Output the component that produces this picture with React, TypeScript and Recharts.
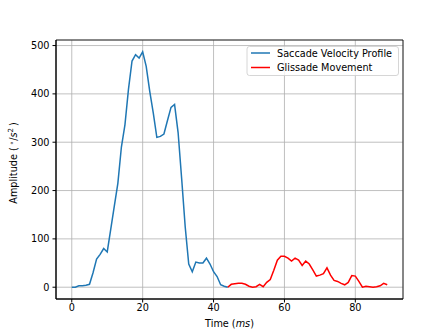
import React from 'react';
import { LineChart, Line, XAxis, YAxis, CartesianGrid, ReferenceArea } from 'recharts';

// time in ms, 1 ms steps
const times = [
  0, 1, 2, 3, 4, 5, 6, 7, 8, 9, 10, 11, 12, 13, 14, 15, 16, 17, 18, 19,
  20, 21, 22, 23, 24, 25, 26, 27, 28, 29, 30, 31, 32, 33, 34, 35, 36, 37, 38, 39,
  40, 41, 42, 43, 44, 45, 46, 47, 48, 49, 50, 51, 52, 53, 54, 55, 56, 57, 58, 59,
  60, 61, 62, 63, 64, 65, 66, 67, 68, 69, 70, 71, 72, 73, 74, 75, 76, 77, 78, 79,
  80, 81, 82, 83, 84, 85, 86, 87, 88, 89,
];

// saccade: t = 0..44
const saccade = [
  0, 0, 3, 3, 4, 6, 30, 58, 68, 80,
  73, 120, 168, 215, 290, 336, 410, 468, 481, 474,
  487, 457, 405, 360, 310, 312, 317, 345, 372, 378,
  320, 225, 125, 48, 32, 52, 50, 50, 60, 48,
  32, 22, 5, 2, 0,
];

// glissade: t = 44..89
const glissade = [
  0, 6, 7, 8, 8, 6, 2, 0, 1, 6,
  1, 10, 16, 35, 56, 64, 64, 60, 54, 60,
  56, 45, 54, 48, 36, 23, 25, 28, 40, 25,
  14, 12, 8, 5, 10, 24, 23, 12, 0, 2,
  1, 0, 1, 3, 8, 5,
];
const glissadeStart = 44;

const xTicks = [0, 20, 40, 60, 80];
const yTicks = [0, 100, 200, 300, 400, 500];

const data = times.map((t, i) => ({
  t,
  saccade: i < saccade.length ? saccade[i] : null,
  glissade: i >= glissadeStart ? glissade[i - glissadeStart] : null,
}));

const xDomain = [-4.45, 93.45];
const yDomain = [-24.4, 511.5];

const font = 'DejaVu Sans, sans-serif';

export default function App() {
  return (
    <div style={{ position: 'absolute', left: 0, top: 0, width: 448, height: 336, background: '#fff', fontFamily: font }}>
      <LineChart width={448} height={336} data={data} margin={{ top: 40, right: 45, left: 0, bottom: 0 }}>
        <CartesianGrid stroke="#b0b0b0" strokeWidth={0.8} />
        <XAxis
          dataKey="t"
          type="number"
          domain={xDomain}
          ticks={xTicks}
          allowDataOverflow
          height={37}
          tickSize={3.5}
          tickMargin={2}
          axisLine={{ stroke: '#000' }}
          tickLine={{ stroke: '#000' }}
          tick={{ fill: '#000', fontSize: 9.7, fontFamily: font }}
        />
        <YAxis
          type="number"
          domain={yDomain}
          ticks={yTicks}
          allowDataOverflow
          width={56}
          tickSize={3.5}
          tickMargin={3}
          axisLine={{ stroke: '#000' }}
          tickLine={{ stroke: '#000' }}
          tick={{ fill: '#000', fontSize: 9.7, fontFamily: font }}
        />
        <ReferenceArea x1={xDomain[0]} x2={xDomain[1]} y1={yDomain[0]} y2={yDomain[1]} fill="none" stroke="#000" strokeWidth={0.8} />
        <Line dataKey="saccade" stroke="#1f77b4" strokeWidth={1.5} dot={false} isAnimationActive={false} connectNulls={false} />
        <Line dataKey="glissade" stroke="#ff0000" strokeWidth={1.5} dot={false} isAnimationActive={false} connectNulls={false} />
      </LineChart>
      <svg width={448} height={336} style={{ position: 'absolute', left: 0, top: 0, pointerEvents: 'none' }}>
        <text x={0} y={0} transform="translate(17,163) rotate(-90)" textAnchor="middle" fontSize={9.7} fontFamily={font} fill="#000">
          Amplitude (<tspan dx={2} dy={-3} fontSize={7}>∘</tspan><tspan dy={3}>/</tspan><tspan fontStyle="italic">s</tspan><tspan dy={-4} fontSize={7}>2</tspan><tspan dx={2} dy={4}>)</tspan>
        </text>
        <text x={229.5} y={327} textAnchor="middle" fontSize={9.7} fontFamily={font} fill="#000">
          Time (<tspan fontStyle="italic">ms</tspan>)
        </text>
        <rect x={247} y={46.5} width={151.5} height={29} rx={2.5} fill="rgba(255,255,255,0.8)" stroke="#cccccc" strokeWidth={0.8} />
        <line x1={251} x2={270} y1={53} y2={53} stroke="#1f77b4" strokeWidth={1.5} />
        <text x={277} y={56.5} fontSize={9.7} fontFamily={font} fill="#000">Saccade Velocity Profile</text>
        <line x1={251} x2={270} y1={67.5} y2={67.5} stroke="#ff0000" strokeWidth={1.5} />
        <text x={277} y={71} fontSize={9.7} fontFamily={font} fill="#000">Glissade Movement</text>
      </svg>
    </div>
  );
}
